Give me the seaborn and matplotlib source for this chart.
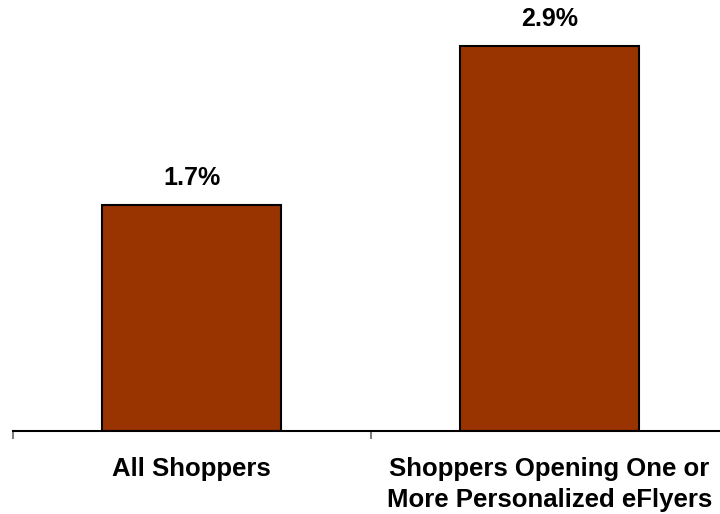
import matplotlib
matplotlib.use("Agg")
import matplotlib.pyplot as plt
import seaborn as sns
import pandas as pd

categories = ["All Shoppers", "Shoppers Opening One or\nMore Personalized eFlyers"]
values = [1.7, 2.9]
value_labels = ["1.7%", "2.9%"]

sns.set_style("white")
plt.rcParams["font.family"] = ["Liberation Sans", "DejaVu Sans"]
plt.rcParams["text.color"] = "black"

df = pd.DataFrame({"cat": categories, "val": values})

fig = plt.figure(figsize=(7.2, 5.14), dpi=100)
ax = fig.add_axes([13 / 720, (514 - 431) / 514, 715 / 720, 431 / 514])
sns.barplot(data=df, x="cat", y="val", color="#993300", saturation=1,
            width=0.5, edgecolor="black", linewidth=1.5, ax=ax)
ax.set_xlim(-0.5, 1.5)
ax.set_ylim(0, 3.246)
for i, (v, lab) in enumerate(zip(values, value_labels)):
    ax.text(i, v + 0.15, lab, ha="center", va="baseline", fontsize=18,
            fontweight="bold", color="black")

for s in ["top", "right", "left"]:
    ax.spines[s].set_visible(False)
ax.spines["bottom"].set_linewidth(1.5)
ax.spines["bottom"].set_color("black")
ax.set_yticks([])
ax.set_xticks([-0.5, 0.5, 1.5])
ax.set_xticklabels([])
ax.tick_params(axis="x", direction="out", length=6, width=1.5, color="#808080", bottom=True)
for i, c in enumerate(categories):
    ax.text(i, -0.195, c, ha="center", va="top", fontsize=18.5, fontweight="bold",
            linespacing=1.38, color="black", clip_on=False)
ax.set_xlabel("")
ax.set_ylabel("")
fig.savefig("out.png", dpi=100)
